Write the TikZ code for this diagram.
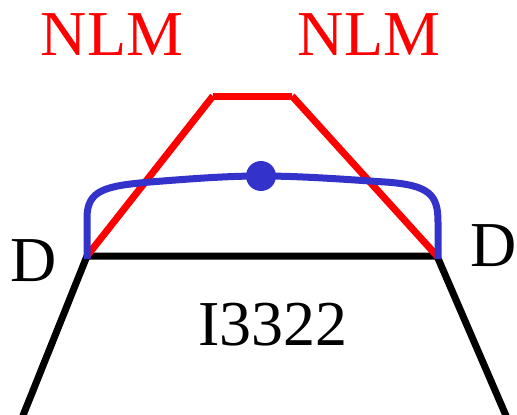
\documentclass[tikz,border=0pt]{standalone}
\usepackage{fontspec}
\setmainfont{Liberation Serif}
\definecolor{dotblue}{RGB}{51,51,204}
\begin{document}
\begin{tikzpicture}[x=1pt,y=-1pt,
  lbl/.style={anchor=base,inner sep=0pt,font=\fontsize{64}{64}\selectfont},
  thick line/.style={line width=7pt}]
\useasboundingbox (0,0) rectangle (517,415);
\coordinate (tl) at (87,256);
\coordinate (tr) at (437,256);
\coordinate (bl) at (22,418);
\coordinate (br) at (507,418);
\coordinate (rl) at (213,96);
\coordinate (rr) at (292,96);
\coordinate (cl) at (87,259);
\coordinate (cr) at (438,259);
\draw[thick line,black] (bl) -- (tl) -- (tr) -- (br);
\draw[thick line,red] (tl) -- (rl);
\draw[thick line,red] (rl) -- (rr);
\draw[thick line,red] (rr) -- (tr);
\draw[thick line,dotblue]
  (cl) -- (87,218) .. controls (87,190) and (105,186) .. (150,182)
  .. controls (200,178) and (230,176) .. (261,176)
  .. controls (300,176) and (340,179) .. (385,182)
  .. controls (430,185) and (438,195) .. (438,222) -- (cr);
\fill[dotblue] (261,176) circle (15);
\node[lbl,red] (nlm1) at (112,55) {NLM};
\node[lbl,red] (nlm2) at (369,55) {NLM};
\node[lbl] (dl) at (34,281) {D};
\node[lbl] (dr) at (494,266) {D};
\node[lbl] (i) at (273,345) {I3322};
\end{tikzpicture}
\end{document}
